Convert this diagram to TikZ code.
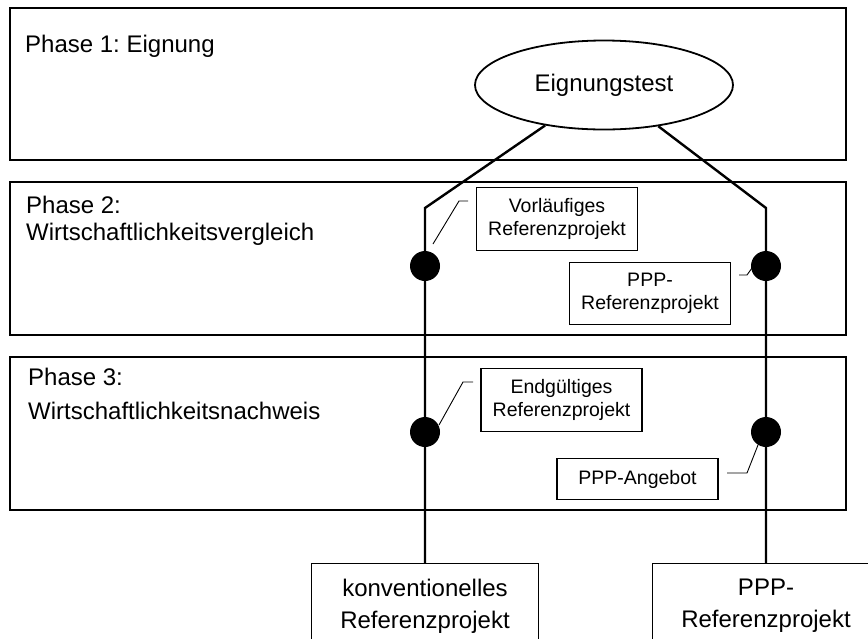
\documentclass[tikz,border=0pt]{standalone}
\usepackage{fontspec}
\setmainfont{Liberation Sans}
\usetikzlibrary{shapes.geometric}
\frenchspacing

\begin{document}
\begin{tikzpicture}[
    x=1pt, y=-1pt,
    phase/.style={draw=black, line width=1.1pt},
    phaselabel/.style={
        anchor=north west,
        inner sep=0pt,
        align=left,
        font=\fontsize{24}{27}\selectfont
    },
    testnode/.style={
        ellipse,
        draw,
        line width=1.8pt,
        minimum width=258pt,
        minimum height=89pt,
        inner sep=0pt,
        font=\fontsize{24}{28}\selectfont
    },
    milestone/.style={circle, fill=black, minimum size=30pt, inner sep=0pt},
    refbox/.style={
        draw,
        line width=1.1pt,
        align=center,
        minimum width=161pt,
        inner ysep=11pt,
        font=\fontsize{19.5}{23}\selectfont
    },
    endbox/.style={
        draw,
        line width=1.3pt,
        align=center,
        anchor=north,
        minimum width=227pt,
        inner ysep=15pt,
        font=\fontsize{24}{32}\selectfont
    },
    conn/.style={line width=2.4pt},
    leader/.style={line width=0.9pt}
]
\clip (0,0) rectangle (868,638);

% Phase frames
\draw[phase] (10,8) rectangle (846,160);
\draw[phase] (10,182) rectangle (846,335);
\draw[phase] (10,357) rectangle (846,510);

% Phase labels
\node[phaselabel] (p1) at (25,35) {Phase 1: Eignung};
\node[phaselabel] (p2) at (26,196) {Phase 2:\\Wirtschaftlichkeitsvergleich};
\node[phaselabel, font=\fontsize{24}{34}\selectfont] (p3) at (28,368) {Phase 3:\\Wirtschaftlichkeitsnachweis};

% Test and end products
\node[testnode] (test) at (604,85) {Eignungstest};
\node[endbox] (konv) at (425,563) {konventionelles\\Referenzprojekt};
\node[endbox] (ppp) at (766,563) {PPP-\\Referenzprojekt};

% Milestones on both tracks
\node[milestone] (m2l) at (425,266) {};
\node[milestone] (m2r) at (766,266) {};
\node[milestone] (m3l) at (425,432) {};
\node[milestone] (m3r) at (766,432) {};

% Tracks
\coordinate (kl) at (425,208);
\coordinate (kr) at (766,208);
\draw[conn] (test) -- (kl) -- (m2l) -- (m3l) -- (konv.north);
\draw[conn] (test) -- (kr) -- (m2r) -- (m3r) -- (ppp.north);

% Reference boxes
\node[refbox] (vorl) at (557,219) {Vorläufiges\\Referenzprojekt};
\node[refbox] (pppref) at (650,293.5) {PPP-\\Referenzprojekt};
\node[refbox] (endg) at (561.5,400) {Endgültiges\\Referenzprojekt};
\node[refbox] (angebot) at (637.5,479) {PPP-Angebot};

% Leader lines
\coordinate (a1) at (468,201);
\coordinate (a2) at (459,201);
\coordinate (a3) at (433,244);
\draw[leader] (a1) -- (a2) -- (a3);

\coordinate (b1) at (739,275);
\coordinate (b2) at (747,275);
\coordinate (b3) at (752,268);
\draw[leader] (b1) -- (b2) -- (b3);

\coordinate (c1) at (473,382);
\coordinate (c2) at (463,382);
\coordinate (c3) at (439,425);
\draw[leader] (c1) -- (c2) -- (c3);

\coordinate (d1) at (727,473);
\coordinate (d2) at (747,473);
\coordinate (d3) at (758,445);
\draw[leader] (d1) -- (d2) -- (d3);

\end{tikzpicture}
\end{document}
